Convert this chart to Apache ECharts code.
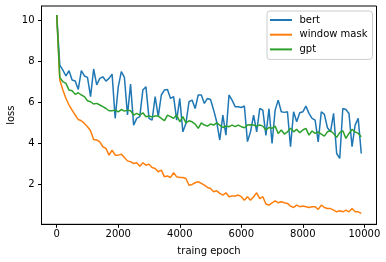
<!DOCTYPE html>
<html><head><meta charset="utf-8">
<script src="https://cdn.jsdelivr.net/npm/echarts@6/dist/echarts.min.js"></script>
<style>html,body{margin:0;padding:0;background:#fff}#c{width:386px;height:262px}</style>
</head><body><div id="c"></div>
<script>
const epochs = [0,100,200,300,400,500,600,700,800,900,1000,1100,1200,1300,1400,1500,1600,1700,1800,1900,2000,2100,2200,2300,2400,2500,2600,2700,2800,2900,3000,3100,3200,3300,3400,3500,3600,3700,3800,3900,4000,4100,4200,4300,4400,4500,4600,4700,4800,4900,5000,5100,5200,5300,5400,5500,5600,5700,5800,5900,6000,6100,6200,6300,6400,6500,6600,6700,6800,6900,7000,7100,7200,7300,7400,7500,7600,7700,7800,7900,8000,8100,8200,8300,8400,8500,8600,8700,8800,8900,9000,9100,9200,9300,9400,9500,9600,9700,9800,9900];
const bert = [10.28,7.83,7.59,7.30,7.56,7.10,7.05,6.64,7.56,7.30,7.23,6.29,7.64,6.86,7.18,7.26,7.05,7.18,7.39,5.23,6.77,7.51,7.23,5.39,6.90,4.90,5.23,5.31,6.61,6.77,5.23,5.14,6.29,5.31,6.37,6.61,6.64,6.20,6.29,5.14,6.20,4.57,4.98,6.04,6.12,5.71,6.37,6.37,5.96,6.20,6.15,5.64,5.06,4.17,5.39,4.41,6.37,6.12,5.80,5.80,5.76,5.83,4.09,4.57,5.39,4.57,5.71,5.63,4.40,5.70,4.00,5.63,6.12,5.55,5.52,5.55,3.84,5.55,5.06,5.50,5.55,5.83,5.47,5.23,5.14,4.08,5.55,5.42,4.77,4.57,5.47,3.51,3.27,5.71,5.66,5.47,3.84,4.90,5.23,3.51];
const windowMask = [10.28,7.10,6.61,6.20,5.88,5.63,5.39,5.17,5.11,4.98,4.82,4.62,4.20,4.17,4.08,3.84,3.76,3.43,3.67,3.43,3.43,3.48,3.32,3.15,3.11,3.02,3.06,2.89,3.06,2.94,2.99,2.83,2.78,2.62,2.70,2.37,2.41,2.34,2.57,2.37,2.34,2.34,2.29,1.96,2.00,2.08,2.13,2.05,1.96,1.85,1.80,1.64,1.69,1.56,1.48,1.59,1.40,1.43,1.43,1.48,1.40,1.23,1.40,1.23,1.40,1.59,1.31,1.40,1.04,0.99,1.10,1.20,1.10,1.15,1.10,1.07,0.94,0.87,0.99,0.91,0.94,0.91,0.87,0.91,0.91,0.78,0.99,0.87,0.82,0.82,0.74,0.66,0.71,0.66,0.74,0.66,0.82,0.66,0.66,0.58];
const gpt = [10.28,7.23,7.02,6.94,6.61,6.58,6.40,6.48,6.37,6.29,6.09,6.04,5.93,5.96,5.88,5.80,5.71,5.60,5.60,5.63,5.55,5.66,5.58,5.63,5.60,5.39,5.47,5.39,5.50,5.31,5.34,5.30,5.34,5.34,5.23,5.11,5.39,5.31,5.23,5.39,5.06,5.31,5.01,5.11,5.06,4.95,4.74,5.01,4.90,4.85,4.95,4.90,5.01,4.90,4.78,4.85,4.82,4.90,4.82,4.90,4.82,4.77,4.90,4.91,4.90,4.85,4.90,4.85,4.66,4.78,4.74,4.85,4.49,4.66,4.46,4.57,4.74,4.57,4.69,4.53,4.66,4.74,4.41,4.61,4.49,4.57,4.46,4.36,4.57,4.62,4.49,4.30,4.53,4.62,4.25,4.49,4.69,4.57,4.49,4.33];
const seriesNames = ['bert','window mask','gpt'];
const xTicks = [0,2000,4000,6000,8000,10000];
const yTicks = [2,4,6,8,10];
const colors = ['#1f77b4','#ff7f0e','#2ca02c'];

const font = 'DejaVu Sans';
const pair = arr => arr.map((v,i)=>[epochs[i], v]);
const chart = echarts.init(document.getElementById('c'), null, {renderer:'canvas'});
chart.setOption({
  animation:false,
  backgroundColor:'#fff',
  color: colors,
  grid:{left:41.5, right:9.5, top:6, bottom:37.7, show:true, borderColor:'#000', borderWidth:1, containLabel:false, outerBoundsMode:'none'},
  legend:{
    orient:'vertical', left:267, top:11, padding:[3,5,4,3],
    itemWidth:22, itemHeight:2, itemGap:2.7, icon:'rect',
    backgroundColor:'rgba(255,255,255,0.8)', borderColor:'#cccccc', borderWidth:1, borderRadius:3,
    textStyle:{fontFamily:font, fontSize:10, color:'#000', lineHeight:12, padding:[0,0,0,2.5]},
    data: seriesNames
  },
  xAxis:{
    type:'value', min:-495, max:10395,
    name:'traing epoch', nameLocation:'middle', nameGap:22, nameMoveOverlap:false,
    nameTextStyle:{fontFamily:font, fontSize:10, color:'#000'},
    axisLine:{show:true, onZero:false, lineStyle:{color:'#000', width:1}},
    axisTick:{show:true, inside:false, length:3.5, lineStyle:{color:'#000'}, customValues: xTicks},
    axisLabel:{fontFamily:font, fontSize:10, color:'#000', margin:5, customValues: xTicks, formatter: v => String(v)},
    splitLine:{show:false}
  },
  yAxis:{
    type:'value', min:0.05, max:10.72,
    name:'loss', nameLocation:'middle', nameGap:30, nameMoveOverlap:false,
    nameTextStyle:{fontFamily:font, fontSize:10, color:'#000', verticalAlign:'middle'},
    axisLine:{show:true, onZero:false, lineStyle:{color:'#000', width:1}},
    axisTick:{show:true, inside:false, length:3.5, lineStyle:{color:'#000'}, customValues: yTicks},
    axisLabel:{fontFamily:font, fontSize:10, color:'#000', margin:7, customValues: yTicks, formatter: v => String(v)},
    splitLine:{show:false}
  },
  series:[
    {name:seriesNames[0], type:'line', data:pair(bert), showSymbol:false, lineStyle:{width:1.5}},
    {name:seriesNames[1], type:'line', data:pair(windowMask), showSymbol:false, lineStyle:{width:1.5}},
    {name:seriesNames[2], type:'line', data:pair(gpt), showSymbol:false, lineStyle:{width:1.5}}
  ]
});
</script></body></html>
